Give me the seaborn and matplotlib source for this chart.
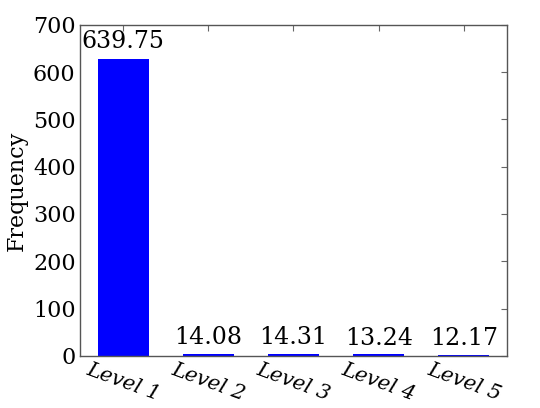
import matplotlib
matplotlib.use("Agg")
import matplotlib.pyplot as plt
import seaborn as sns
import pandas as pd

categories = ["Level 1", "Level 2", "Level 3", "Level 4", "Level 5"]
bar_heights = [628.0, 4.0, 4.3, 3.2, 2.2]
label_values = [639.75, 14.08, 14.31, 13.24, 12.17]
y_ticks = [0, 100, 200, 300, 400, 500, 600, 700]

sns.set_style("white")
plt.rcParams["font.family"] = ["DejaVu Serif"]
plt.rcParams["text.color"] = "black"
plt.rcParams["xtick.color"] = "black"
plt.rcParams["ytick.color"] = "black"
plt.rcParams["axes.labelcolor"] = "black"

df = pd.DataFrame({"level": categories, "freq": bar_heights})

fig = plt.figure(figsize=(5.4, 4.08), dpi=100)
ax = fig.add_axes([0.149, 0.128, 0.789, 0.811])
sns.barplot(data=df, x="level", y="freq", color="#0000ff", saturation=1,
            width=0.6, ax=ax, edgecolor="none")

for i, v in enumerate(label_values):
    ax.text(i, v, f"{v:.2f}", ha="center", va="bottom", fontsize=17,
            color="black")

ax.set_xlim(-0.5, 4.5)
ax.set_ylim(0, 700)
ax.set_yticks(y_ticks)
ax.set_yticklabels([str(t) for t in y_ticks], fontsize=16)
ax.set_xticks(range(len(categories)))
ax.set_xticklabels(categories, fontsize=15, rotation=-20, style="italic",
                   ha="center", va="top")
ax.set_xlabel("")
ax.set_ylabel("Frequency", fontsize=16, labelpad=4)
ax.tick_params(direction="in", top=True, right=True, length=4,
               color="#666666", width=0.8)
ax.tick_params(axis="x", pad=3)
for s in ax.spines.values():
    s.set_color("#555555")
    s.set_linewidth(1.0)

fig.savefig("out.png", dpi=100)
